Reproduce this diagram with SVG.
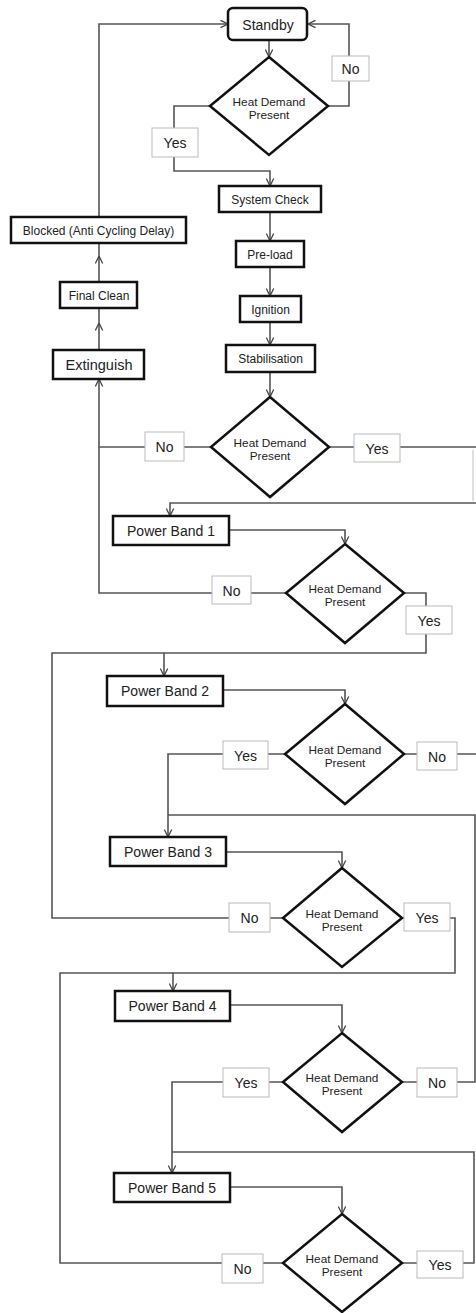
<svg xmlns="http://www.w3.org/2000/svg" width="476" height="1313" viewBox="0 0 476 1313">
<style>
.conn{fill:none;stroke:#555;stroke-width:1.6}
.faint{fill:none;stroke:#ccc;stroke-width:1.2}
.node{fill:#fff;stroke:#111;stroke-width:2.5}
.dia{fill:#fff;stroke:#111;stroke-width:2.5;stroke-linejoin:miter}
.lbl{fill:#fff;stroke:#bbb;stroke-width:1}
text{font-family:"Liberation Sans",Arial,sans-serif;fill:#222;text-anchor:middle}
.t12{font-size:12px}
.t14{font-size:14px}
.th{font-size:11.8px}
</style>
<defs>
<marker id="arr" markerUnits="userSpaceOnUse" markerWidth="9" markerHeight="9" viewBox="0 0 9 9" refX="8.5" refY="4.5" orient="auto">
<path d="M1,0.8 L8.5,4.5 L1,8.2" fill="none" stroke="#444" stroke-width="1.3"/>
</marker>
</defs>
<rect width="476" height="1313" fill="#fff"/>
<g id="connectors">
<path class="conn" d="M269,40 L269,57" marker-end="url(#arr)"/>
<path class="conn" d="M328,106 L349,106 L349,24 L308,24" marker-end="url(#arr)"/>
<path class="conn" d="M210,106 L174,106 L174,171 L270,171 L270,186" marker-end="url(#arr)"/>
<path class="conn" d="M270,212 L270,241" marker-end="url(#arr)"/>
<path class="conn" d="M270,267 L270,296" marker-end="url(#arr)"/>
<path class="conn" d="M270,322 L270,345" marker-end="url(#arr)"/>
<path class="conn" d="M270,372 L270,397" marker-end="url(#arr)"/>
<path class="conn" d="M329,447 L476,447"/>
<path class="faint" d="M473,450 L473,501"/>
<path class="conn" d="M476,503 L170,503 L170,516" marker-end="url(#arr)"/>
<path class="conn" d="M211,447 L99,447 L99,379" marker-end="url(#arr)"/>
<path class="conn" d="M99,350 L99,323 L99,308" marker-mid="url(#arr)"/>
<path class="conn" d="M99,282 L99,256 L99,243" marker-mid="url(#arr)"/>
<path class="conn" d="M99,217 L99,24 L228,24" marker-end="url(#arr)"/>
<path class="conn" d="M229,530 L345,530 L345,544" marker-end="url(#arr)"/>
<path class="conn" d="M286,593 L99,593 L99,447"/>
<path class="conn" d="M404,593 L426,593 L426,653 L164,653 L164,676" marker-end="url(#arr)"/>
<path class="conn" d="M283,918 L52,918 L52,653 L164,653"/>
<path class="conn" d="M223,690 L345,690 L345,704" marker-end="url(#arr)"/>
<path class="conn" d="M285,754 L168,754 L168,837" marker-end="url(#arr)"/>
<path class="conn" d="M404,754 L476,754"/>
<path class="conn" d="M402,1082 L475,1082 L475,815 L168,815"/>
<path class="conn" d="M226,852 L342,852 L342,868" marker-end="url(#arr)"/>
<path class="conn" d="M402,918 L455,918 L455,973 L173,973 L173,991" marker-end="url(#arr)"/>
<path class="conn" d="M283,1263 L60,1263 L60,973 L173,973"/>
<path class="conn" d="M230,1005 L342,1005 L342,1033" marker-end="url(#arr)"/>
<path class="conn" d="M283,1082 L172,1082 L172,1173" marker-end="url(#arr)"/>
<path class="conn" d="M402,1263 L474,1263 L474,1152 L172,1152"/>
<path class="conn" d="M230,1187 L342,1187 L342,1214" marker-end="url(#arr)"/>
</g>
<g id="standby"><rect class="node" x="228" y="8" width="79" height="32" rx="5"/><text class="t14" x="268" y="30">Standby</text></g>
<g id="d1"><polygon class="dia" points="269,57 328,106 269,155 210,106"/><text class="th" x="269" y="106">Heat Demand</text><text class="th" x="269" y="119">Present</text></g>
<g id="no1"><rect class="lbl" x="332" y="56" width="37" height="25"/><text class="t14" x="350.5" y="73.5">No</text></g>
<g id="yes1"><rect class="lbl" x="152" y="128" width="46" height="29"/><text class="t14" x="175" y="147.5">Yes</text></g>
<g id="syscheck"><rect class="node" x="219" y="186" width="102" height="26"/><text class="t12" x="270" y="203.5">System Check</text></g>
<g id="preload"><rect class="node" x="236" y="241" width="68" height="26"/><text class="t12" x="270" y="258.5">Pre-load</text></g>
<g id="ignition"><rect class="node" x="240" y="296" width="61" height="26"/><text class="t12" x="270.5" y="313.5">Ignition</text></g>
<g id="stabilisation"><rect class="node" x="226" y="345" width="89" height="27"/><text class="t12" x="270.5" y="362.5">Stabilisation</text></g>
<g id="blocked"><rect class="node" x="11" y="217" width="175" height="26"/><text class="t12" x="98.5" y="234.5">Blocked (Anti Cycling Delay)</text></g>
<g id="finalclean"><rect class="node" x="60" y="282" width="77" height="26"/><text class="t12" x="99" y="299.5">Final Clean</text></g>
<g id="extinguish"><rect class="node" x="53" y="350" width="91" height="29"/><text style="font-size:14.5px" x="99" y="370">Extinguish</text></g>
<g id="d2"><polygon class="dia" points="270,397 329,447 270,497 211,447"/><text class="th" x="270" y="447">Heat Demand</text><text class="th" x="270" y="460">Present</text></g>
<g id="no2"><rect class="lbl" x="145" y="432" width="39" height="29"/><text class="t14" x="164.5" y="452">No</text></g>
<g id="yes2"><rect class="lbl" x="354" y="434" width="46" height="28"/><text class="t14" x="377" y="453.5">Yes</text></g>
<g id="pb1"><rect class="node" x="113" y="516" width="116" height="29"/><text class="t14" x="171" y="535.5">Power Band 1</text></g>
<g id="d3"><polygon class="dia" points="345,544 404,593 345,643 286,593"/><text class="th" x="345" y="593">Heat Demand</text><text class="th" x="345" y="606">Present</text></g>
<g id="no3"><rect class="lbl" x="212" y="576" width="39" height="28"/><text class="t14" x="231.5" y="595.5">No</text></g>
<g id="yes3"><rect class="lbl" x="406" y="606" width="46" height="28"/><text class="t14" x="429" y="625.5">Yes</text></g>
<g id="pb2"><rect class="node" x="107" y="676" width="116" height="30"/><text class="t14" x="165" y="696">Power Band 2</text></g>
<g id="d4"><polygon class="dia" points="345,704 404,754 345,804 285,754"/><text class="th" x="345" y="754">Heat Demand</text><text class="th" x="345" y="767">Present</text></g>
<g id="yes4"><rect class="lbl" x="223" y="741" width="45" height="28"/><text class="t14" x="245.5" y="760.5">Yes</text></g>
<g id="no4"><rect class="lbl" x="417" y="742" width="40" height="28"/><text class="t14" x="437" y="761.5">No</text></g>
<g id="pb3"><rect class="node" x="110" y="837" width="116" height="29"/><text class="t14" x="168" y="856.5">Power Band 3</text></g>
<g id="d5"><polygon class="dia" points="342,868 402,918 342,967 283,918"/><text class="th" x="342" y="918">Heat Demand</text><text class="th" x="342" y="931">Present</text></g>
<g id="no5"><rect class="lbl" x="229" y="903" width="41" height="29"/><text class="t14" x="249.5" y="922.5">No</text></g>
<g id="yes5"><rect class="lbl" x="404" y="903" width="46" height="28"/><text class="t14" x="427" y="922.5">Yes</text></g>
<g id="pb4"><rect class="node" x="115" y="991" width="115" height="30"/><text class="t14" x="172.5" y="1011">Power Band 4</text></g>
<g id="d6"><polygon class="dia" points="342,1033 402,1082 342,1132 283,1082"/><text class="th" x="342" y="1082">Heat Demand</text><text class="th" x="342" y="1095">Present</text></g>
<g id="yes6"><rect class="lbl" x="223" y="1068" width="46" height="29"/><text class="t14" x="246" y="1087.5">Yes</text></g>
<g id="no6"><rect class="lbl" x="417" y="1068" width="40" height="29"/><text class="t14" x="437" y="1087.5">No</text></g>
<g id="pb5"><rect class="node" x="114" y="1173" width="116" height="29"/><text class="t14" x="172" y="1192.5">Power Band 5</text></g>
<g id="d7"><polygon class="dia" points="342,1214 402,1263 342,1312 283,1263"/><text class="th" x="342" y="1263">Heat Demand</text><text class="th" x="342" y="1276">Present</text></g>
<g id="no7"><rect class="lbl" x="222" y="1254" width="41" height="29"/><text class="t14" x="242.5" y="1273.5">No</text></g>
<g id="yes7"><rect class="lbl" x="417" y="1251" width="46" height="27"/><text class="t14" x="440" y="1270">Yes</text></g>
</svg>
